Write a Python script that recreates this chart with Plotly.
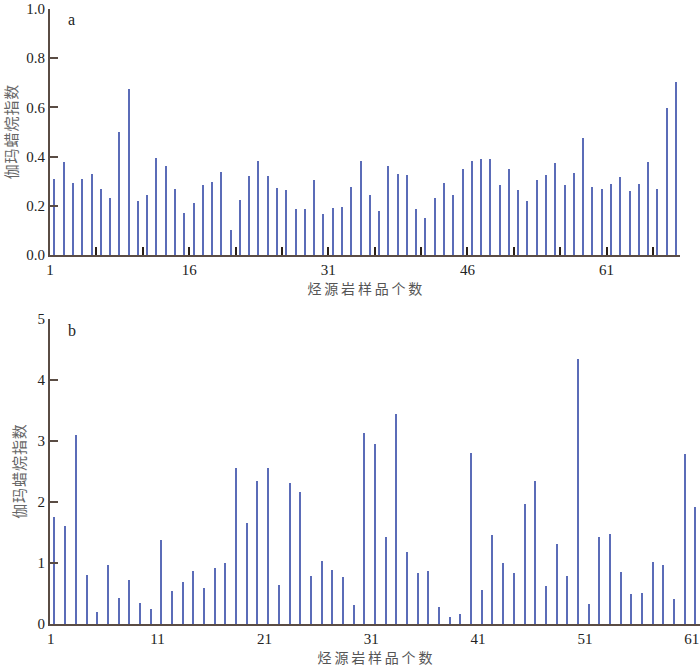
import plotly.graph_objects as go

# gammacerane index per source-rock sample, panel a (68 samples) and panel b (61 samples)
gam_a = [0.308, 0.380, 0.292, 0.308, 0.328, 0.268, 0.232, 0.499, 0.676, 0.218,
         0.242, 0.395, 0.360, 0.269, 0.169, 0.211, 0.286, 0.296, 0.337, 0.100,
         0.222, 0.321, 0.384, 0.321, 0.272, 0.263, 0.189, 0.185, 0.306, 0.165,
         0.193, 0.195, 0.276, 0.383, 0.242, 0.177, 0.360, 0.331, 0.326, 0.186,
         0.150, 0.232, 0.294, 0.244, 0.348, 0.383, 0.391, 0.391, 0.285, 0.350,
         0.265, 0.218, 0.304, 0.326, 0.376, 0.286, 0.335, 0.474, 0.275, 0.269,
         0.289, 0.316, 0.261, 0.289, 0.378, 0.268, 0.597, 0.704]
gam_b = [1.746, 1.605, 3.095, 0.807, 0.190, 0.960, 0.419, 0.726, 0.338, 0.240,
         1.381, 0.540, 0.682, 0.873, 0.595, 0.911, 0.999, 2.565, 1.654, 2.336,
         2.565, 0.639, 2.319, 2.162, 0.791, 1.025, 0.878, 0.770, 0.311, 3.133,
         2.953, 1.425, 3.439, 1.184, 0.840, 0.873, 0.272, 0.120, 0.164, 2.806,
         0.557, 1.457, 0.999, 0.835, 1.975, 2.336, 0.622, 1.304, 0.791, 4.340,
         0.321, 1.430, 1.474, 0.857, 0.491, 0.508, 1.015, 0.966, 0.409, 2.794,
         1.921]

labels_a = ["1", "16", "31", "46", "61"]
labels_b = ["1", "11", "21", "31", "41", "51", "61"]

x_a = list(range(1, len(gam_a) + 1))
x_b = list(range(1, len(gam_b) + 1))

BAR = "#5b6cb8"
AXIS = "#5a4c44"
SERIF = "Liberation Serif, Times New Roman, serif"
CJK = "Noto Sans CJK SC"

xtitle = "\u2009".join("烃源岩样品个数")
ytitle = "\u200a".join("伽玛蜡烷指数")

fig = go.Figure()
fig.add_trace(go.Bar(x=x_a, y=gam_a, width=0.16, marker=dict(color=BAR, line_width=0),
                     xaxis="x", yaxis="y"))
fig.add_trace(go.Bar(x=x_b, y=gam_b, width=0.14, marker=dict(color=BAR, line_width=0),
                     xaxis="x2", yaxis="y2"))

# panel a: labelled every 15 samples, ticks every 5 between bars
tv_a = [0.5 + 5 * i for i in range(14)]
tt_a = [""] * len(tv_a)
for i, lab in enumerate(labels_a):
    tt_a[3 * i] = lab

axis_common = dict(showline=True, linecolor=AXIS, linewidth=2, showgrid=False,
                   zeroline=False, automargin=False, ticklabeloverflow="allow",
                   tickfont=dict(family=SERIF, size=15, color="#222"))

fig.update_layout(
    width=700, height=667,
    margin=dict(l=50, r=0, t=9, b=43),
    paper_bgcolor="white", plot_bgcolor="white",
    showlegend=False, bargap=0,
    xaxis=dict(domain=[0, 0.969], range=[0.5, 68.4], tickmode="array",
               tickvals=tv_a, ticktext=tt_a, ticks="inside", ticklen=8,
               tickwidth=2, tickcolor="#2a2018", anchor="y",
               title=dict(text=xtitle, font=dict(family=CJK, size=14, color="#555"),
                          standoff=4),
               **axis_common),
    yaxis=dict(domain=[0.6, 1.0], range=[0, 1.0], tickmode="array",
               tickvals=[0, 0.2, 0.4, 0.6, 0.8, 1.0], tickformat=".1f",
               ticks="inside", ticklen=8, tickwidth=1.5, tickcolor=AXIS, anchor="x",
               title=dict(text=ytitle, font=dict(family=CJK, size=15, color="#666"),
                          standoff=11),
               **axis_common),
    xaxis2=dict(domain=[0, 1], range=[0.56, 61.4], tickmode="array",
                tickvals=[int(v) - 0.37 for v in labels_b], ticktext=labels_b,
                ticks="", anchor="y2",
                title=dict(text=xtitle, font=dict(family=CJK, size=14, color="#555"),
                           standoff=4),
                **axis_common),
    yaxis2=dict(domain=[0, 0.4959], range=[0, 5], tickmode="array",
                tickvals=[0, 1, 2, 3, 4, 5], ticks="inside", ticklen=8,
                tickwidth=1.5, tickcolor=AXIS, anchor="x2",
                title=dict(text=ytitle, font=dict(family=CJK, size=15, color="#666"),
                           standoff=8),
                **axis_common),
    annotations=[
        dict(text="a", x=2.8, y=1.0, xref="x", yref="paper", showarrow=False,
             xanchor="center", yanchor="top", font=dict(family=SERIF, size=16, color="#222")),
        dict(text="b", x=2.6, y=0.4935, xref="x2", yref="paper", showarrow=False,
             xanchor="center", yanchor="top", font=dict(family=SERIF, size=16, color="#222")),
    ],
)

fig.write_html("out.html", config={"displayModeBar": False},
               post_script="document.body.style.margin='0';")
